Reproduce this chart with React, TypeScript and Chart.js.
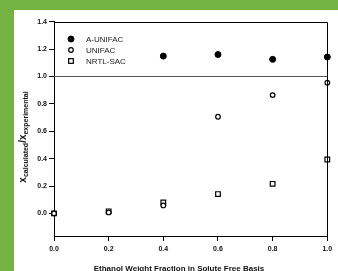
import React, { useEffect, useRef } from "react";
import { Chart, registerables } from "chart.js";

Chart.register(...registerables);

const xValues = [0.0, 0.2, 0.4, 0.6, 0.8, 1.0];
const aUnifacX = [0.4, 0.6, 0.8, 1.0];
const aUnifac = [1.149, 1.16, 1.125, 1.142];
const unifac = [0.0, 0.007, 0.058, 0.706, 0.864, 0.954];
const nrtlSac = [0.0, 0.015, 0.08, 0.141, 0.216, 0.394];
const yTicks = [0.0, 0.2, 0.4, 0.6, 0.8, 1.0, 1.2, 1.4];
const seriesLabels = ["A-UNIFAC", "UNIFAC", "NRTL-SAC"];
const xTitle = "Ethanol Weight Fraction in Solute Free Basis";
const refLine = 1.0;

const FONT = "'Liberation Sans', Arial, sans-serif";

const decorPlugin = {
  id: "decor",
  afterDatasetsDraw(chart: any) {
    const { ctx, chartArea, scales } = chart;
    const ys = scales.y;
    ctx.save();
    // reference line at 1.0
    const y1 = Math.round(ys.getPixelForValue(refLine)) + 0.5;
    ctx.strokeStyle = "#555";
    ctx.lineWidth = 1;
    ctx.beginPath();
    ctx.moveTo(chartArea.left, y1);
    ctx.lineTo(chartArea.right, y1);
    ctx.stroke();
    // top & right border
    ctx.strokeStyle = "#000";
    ctx.beginPath();
    ctx.moveTo(chartArea.left, Math.round(chartArea.top) + 0.5);
    ctx.lineTo(Math.round(chartArea.right) + 0.5, Math.round(chartArea.top) + 0.5);
    ctx.lineTo(Math.round(chartArea.right) + 0.5, chartArea.bottom);
    ctx.stroke();

    // legend
    const lx = 57;
    const tx = 72;
    const rows = [29, 40, 51];
    ctx.font = `8px ${FONT}`;
    ctx.textBaseline = "middle";
    ctx.fillStyle = "#222";
    chart.data.datasets.forEach((ds: any, i: number) => {
      const yy = rows[i];
      ctx.save();
      ctx.fillStyle = ds.pointBackgroundColor;
      ctx.strokeStyle = ds.pointBorderColor;
      ctx.lineWidth = ds.pointBorderWidth;
      const r = ds.pointRadius;
      if (ds.pointStyle === "rect") {
        const s = r / Math.SQRT2;
        ctx.fillRect(lx - s, yy - s, 2 * s, 2 * s);
        ctx.strokeRect(lx - s, yy - s, 2 * s, 2 * s);
      } else {
        ctx.beginPath();
        ctx.arc(lx, yy, r, 0, Math.PI * 2);
        ctx.fill();
        ctx.stroke();
      }
      ctx.restore();
      ctx.fillStyle = "#222";
      ctx.textAlign = "left";
      ctx.fillText(ds.label, tx, yy + 0.5);
    });

    // x title
    ctx.font = `bold 8px ${FONT}`;
    ctx.textAlign = "center";
    ctx.textBaseline = "middle";
    ctx.fillStyle = "#111";
    ctx.fillText(xTitle, 165, 259);

    // y title with subscripts
    const parts = [
      { t: "x", size: 10, dy: 0 },
      { t: "calculated", size: 7, dy: 3 },
      { t: "/x", size: 10, dy: 0 },
      { t: "experimental", size: 7, dy: 3 },
    ];
    let total = 0;
    const widths = parts.map((p) => {
      ctx.font = `bold ${p.size}px ${FONT}`;
      const w = ctx.measureText(p.t).width;
      total += w;
      return w;
    });
    ctx.translate(9, 127);
    ctx.rotate(-Math.PI / 2);
    ctx.textAlign = "left";
    ctx.textBaseline = "middle";
    let cx = -total / 2;
    parts.forEach((p, i) => {
      ctx.font = `bold ${p.size}px ${FONT}`;
      ctx.fillText(p.t, cx, p.dy);
      cx += widths[i];
    });
    ctx.restore();
  },
};

export default function App() {
  const ref = useRef<HTMLCanvasElement>(null);
  useEffect(() => {
    document.body.style.margin = "0";
    const chart = new Chart(ref.current as HTMLCanvasElement, {
      type: "scatter",
      data: {
        datasets: [
          {
            label: seriesLabels[0],
            data: aUnifacX.map((x, i) => ({ x, y: aUnifac[i] })),
            pointStyle: "circle",
            pointRadius: 3,
            pointBackgroundColor: "#000",
            pointBorderColor: "#000",
            pointBorderWidth: 1,
          },
          {
            label: seriesLabels[1],
            data: xValues.map((x, i) => ({ x, y: unifac[i] })),
            pointStyle: "circle",
            pointRadius: 2.3,
            pointBackgroundColor: "#fff",
            pointBorderColor: "#000",
            pointBorderWidth: 1.2,
          },
          {
            label: seriesLabels[2],
            data: xValues.map((x, i) => ({ x, y: nrtlSac[i] })),
            pointStyle: "rect",
            pointRadius: 3.3,
            pointBackgroundColor: "#fff",
            pointBorderColor: "#000",
            pointBorderWidth: 1.2,
          },
        ] as any,
      },
      options: {
        animation: false,
        responsive: false,
        devicePixelRatio: 1,
        clip: false as any,
        layout: { padding: { left: 0, top: 11.7, right: 10.7, bottom: 0 } },
        plugins: { legend: { display: false }, tooltip: { enabled: false } },
        scales: {
          x: {
            type: "linear",
            min: 0,
            max: 1,
            afterFit: (s: any) => {
              s.height = 35;
            },
            afterBuildTicks: (s: any) => {
              s.ticks = xValues.map((v) => ({ value: v }));
            },
            ticks: {
              callback: (v: any) => Number(v).toFixed(1),
              font: { family: FONT, size: 7, weight: "bold" },
              color: "#111",
              padding: 4,
              maxRotation: 0,
            },
            grid: { drawOnChartArea: false, drawTicks: true, tickLength: 5, color: "#000" },
            border: { display: true, color: "#000", width: 1 },
          },
          y: {
            type: "linear",
            min: -0.165,
            max: 1.4,
            afterFit: (s: any) => {
              s.width = 40;
            },
            afterBuildTicks: (s: any) => {
              s.ticks = yTicks.map((v) => ({ value: v }));
            },
            ticks: {
              callback: (v: any) => Number(v).toFixed(1),
              font: { family: FONT, size: 7, weight: "bold" },
              color: "#111",
              padding: 2,
            },
            grid: { drawOnChartArea: false, drawTicks: true, tickLength: 5, color: "#000" },
            border: { display: true, color: "#000", width: 1 },
          },
        },
      },
      plugins: [decorPlugin],
    });
    return () => chart.destroy();
  }, []);
  return (
    <div style={{ position: "relative", width: 338, height: 271, background: "#74b342", overflow: "hidden" }}>
      <canvas
        ref={ref}
        width={324}
        height={261}
        style={{ position: "absolute", left: 14, top: 10, width: 324, height: 261, background: "#fff" }}
      />
    </div>
  );
}
